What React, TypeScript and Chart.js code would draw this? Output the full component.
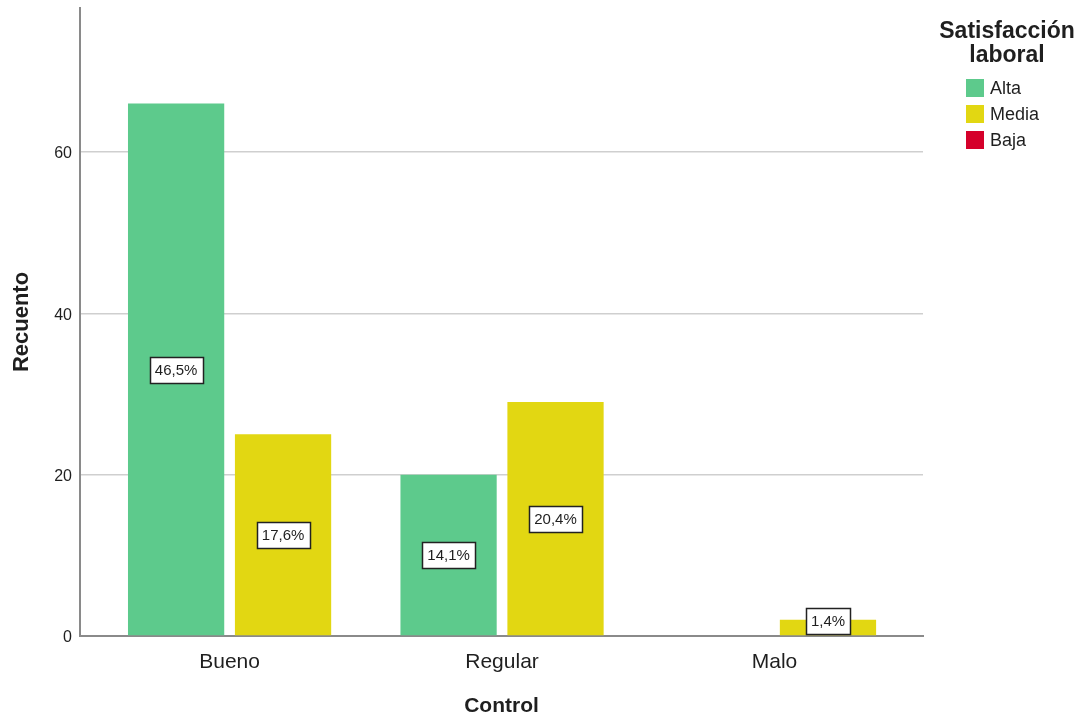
import React, { useEffect, useRef } from "react";
import { Chart, registerables } from "chart.js";

Chart.register(...registerables);

// Categories on the x axis
const categories: string[] = ["Bueno", "Regular", "Malo"];

// Counts per category for each satisfaction level
const altaValues: number[] = [66, 20, 0];
const mediaValues: number[] = [25, 29, 2];
const bajaValues: number[] = [0, 0, 0];

const seriesLabels: string[] = ["Alta", "Media", "Baja"];
const seriesColors: string[] = ["#5dca8c", "#e2d712", "#d5002b"];

const yTicks: number[] = [0, 20, 40, 60];

const FONT = "'Liberation Sans', Arial, sans-serif";
const TEXT = "#1f1f1f";

const total = [...altaValues, ...mediaValues, ...bajaValues].reduce((a, b) => a + b, 0);

const pct = (v: number) => ((v / total) * 100).toFixed(1).replace(".", ",") + "%";

// Percentage boxes centred on each bar
const percentLabels = {
  id: "percentLabels",
  afterDatasetsDraw(chart: any) {
    const { ctx } = chart;
    const base = chart.scales.y.getPixelForValue(0);
    ctx.save();
    ctx.font = `15px ${FONT}`;
    ctx.textAlign = "center";
    ctx.textBaseline = "middle";
    chart.data.datasets.forEach((ds: any, di: number) => {
      const meta = chart.getDatasetMeta(di);
      ds.data.forEach((pt: any, i: number) => {
        if (!pt.y) return;
        const bar = meta.data[i];
        const text = pct(pt.y);
        const w = Math.round(ctx.measureText(text).width + 10);
        const h = 26;
        let cy = (bar.y + base) / 2;
        cy = Math.min(cy, base - h / 2 - 2);
        const x0 = Math.round(bar.x - w / 2) + 0.5;
        const y0 = Math.round(cy - h / 2) + 0.5;
        ctx.fillStyle = "#ffffff";
        ctx.fillRect(x0, y0, w, h);
        ctx.strokeStyle = "#222222";
        ctx.lineWidth = 1.5;
        ctx.strokeRect(x0, y0, w, h);
        ctx.fillStyle = TEXT;
        ctx.fillText(text, bar.x, cy + 1);
      });
    });
    ctx.restore();
  },
};

// Legend with a two-line title at the right
const sideLegend = {
  id: "sideLegend",
  afterDraw(chart: any) {
    const { ctx } = chart;
    ctx.save();
    ctx.fillStyle = TEXT;
    ctx.textAlign = "center";
    ctx.textBaseline = "alphabetic";
    ctx.font = `bold 23px ${FONT}`;
    ctx.fillText("Satisfacción", 1007, 38);
    ctx.fillText("laboral", 1007, 62);
    ctx.font = `18px ${FONT}`;
    ctx.textAlign = "left";
    ctx.textBaseline = "middle";
    chart.data.datasets.forEach((ds: any, i: number) => {
      const top = 79 + i * 26;
      ctx.fillStyle = ds.backgroundColor;
      ctx.fillRect(966, top, 18, 18);
      ctx.fillStyle = TEXT;
      ctx.fillText(ds.label, 990, top + 10);
    });
    ctx.restore();
  },
};

export default function App() {
  const ref = useRef<HTMLCanvasElement | null>(null);

  useEffect(() => {
    if (!ref.current) return;
    const toPoints = (vals: number[]) => vals.map((v, i) => ({ x: i, y: v }));
    const chart = new Chart(ref.current, {
      type: "bar",
      data: {
        datasets: [
          {
            label: seriesLabels[0],
            data: toPoints(altaValues),
            backgroundColor: seriesColors[0],
            categoryPercentage: 0.785,
            barPercentage: 0.9,
          },
          {
            label: seriesLabels[1],
            data: toPoints(mediaValues),
            backgroundColor: seriesColors[1],
            categoryPercentage: 0.785,
            barPercentage: 0.9,
          },
          {
            label: seriesLabels[2],
            data: toPoints(bajaValues),
            backgroundColor: seriesColors[2],
            grouped: false,
            categoryPercentage: 0.785,
            barPercentage: 0.9,
          },
        ] as any,
      },
      options: {
        animation: false,
        responsive: false,
        maintainAspectRatio: false,
        layout: { padding: { top: 8, right: 158, left: 0, bottom: 0 } },
        plugins: {
          legend: { display: false },
          tooltip: { enabled: false },
        },
        scales: {
          x: {
            type: "linear",
            offset: false,
            min: -0.549,
            max: 2.545,
            afterBuildTicks: (scale: any) => {
              scale.ticks = categories.map((_, i) => ({ value: i }));
            },
            afterFit: (scale: any) => {
              scale.height = 83;
              scale.paddingLeft = 0;
              scale.paddingRight = 0;
            },
            grid: { display: false, drawTicks: false, offset: false },
            border: { display: true, color: "#8a8a8a", width: 2 },
            ticks: {
              autoSkip: false,
              maxRotation: 0,
              padding: 14,
              color: TEXT,
              font: { family: FONT, size: 21 },
              callback: (v: any) => categories[Math.round(Number(v))] ?? "",
            },
            title: {
              display: true,
              text: "Control",
              color: TEXT,
              font: { family: FONT, size: 21, weight: "bold" },
              padding: { top: 0, bottom: 0 },
            },
          },
          y: {
            min: 0,
            max: 77.85,
            afterBuildTicks: (scale: any) => {
              scale.ticks = yTicks.map((v) => ({ value: v }));
            },
            afterFit: (scale: any) => {
              scale.width = 80;
              scale.paddingTop = 0;
              scale.paddingBottom = 0;
            },
            grid: { color: "#cfcfcf", lineWidth: 1.5, drawTicks: false },
            border: { display: true, color: "#8a8a8a", width: 2 },
            ticks: {
              padding: 8,
              labelOffset: 2,
              color: TEXT,
              font: { family: FONT, size: 16 },
            },
            title: {
              display: true,
              text: "Recuento",
              color: TEXT,
              font: { family: FONT, size: 22, weight: "bold" },
              padding: { top: 9, bottom: 0 },
            },
          },
        },
      } as any,
      plugins: [percentLabels, sideLegend],
    });
    return () => chart.destroy();
  }, []);

  return (
    <div style={{ position: "fixed", left: 0, top: 0, width: 1081, height: 719, background: "#ffffff" }}>
      <canvas ref={ref} width={1081} height={719} style={{ width: 1081, height: 719 }} />
    </div>
  );
}
